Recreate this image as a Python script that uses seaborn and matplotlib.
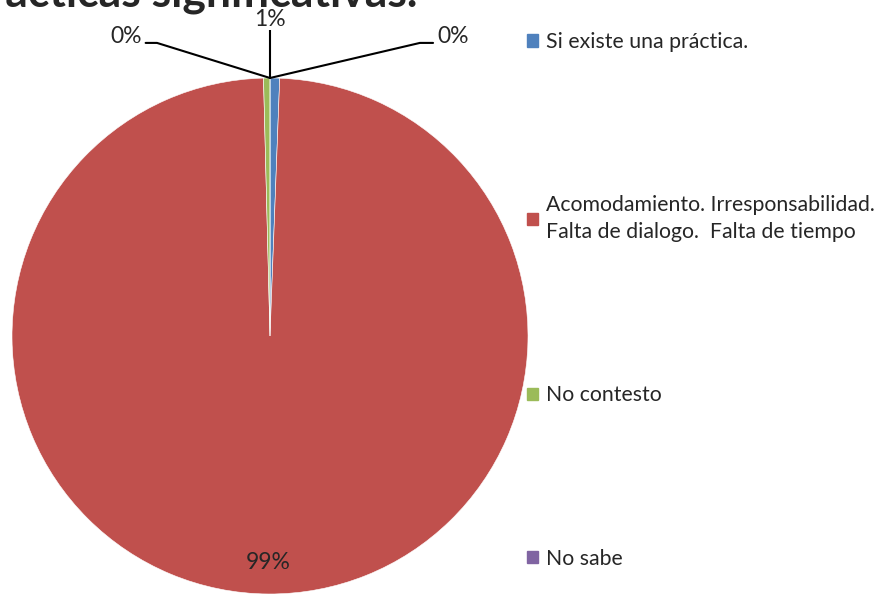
import matplotlib.pyplot as plt
import matplotlib.patches as mpatches
import seaborn as sns

# --- DATA ---
categories = [
    "Si existe una práctica.",
    "Acomodamiento. Irresponsabilidad.\nFalta de dialogo.  Falta de tiempo",
    "No contesto",
    "No sabe",
]
values = [0.6, 99.0, 0.4, 0.0]
pct_labels = ["1%", "99%", "0%", "0%"]
title_text = "Prácticas significativas."

colors = ["#4F81BD", "#C0504D", "#9BBB59", "#8064A2"]

# --- STYLE ---
sns.set_theme(style="white")
plt.rcParams['font.family'] = ['Lato', 'DejaVu Sans']

W, H = 881, 595
fig = plt.figure(figsize=(W / 100, H / 100), dpi=100)

# pie centre at (270, 336) px, radius 258 px
cx, cy, r = 270, 336, 258
ax = fig.add_axes([0, 0, 540 / W, 1])
palette = sns.color_palette(colors)
wedges, _ = ax.pie(values, colors=palette, startangle=90, counterclock=False,
                   radius=1.0, wedgeprops=dict(linewidth=0.4, edgecolor='white'))
ax.set_xlim(-cx / r, (540 - cx) / r)
ax.set_ylim((cy - H) / r, cy / r)
ax.set_aspect('auto')
ax.axis('off')

# --- DATA LABELS with leader lines ---
lw = 1.5
fs = 16.5
# top label (blue slice)
ax.plot([0, 0], [1.0, 1.186], color='black', lw=lw, solid_capstyle='butt')
ax.text(0, 1.228, pct_labels[0], ha='center', va='center', fontsize=fs)
# left label (green slice)
ax.plot([0, -0.438, -0.482], [1.0, 1.136, 1.136], color='black', lw=lw)
ax.text(-0.496, 1.159, pct_labels[2], ha='right', va='center', fontsize=fs)
# right label (purple slice)
ax.plot([0, 0.581, 0.632], [1.0, 1.136, 1.136], color='black', lw=lw)
ax.text(0.647, 1.159, pct_labels[3], ha='left', va='center', fontsize=fs)
# large slice label
ax.text(-0.008, -0.876, pct_labels[1], ha='center', va='center', fontsize=fs)

# --- TITLE (clipped at the top, as in the original) ---
fig.text(417 / W, 1 - 6.5 / H, title_text, ha='right', va='baseline',
         fontsize=32, fontweight='bold')

# --- LEGEND ---
handles = [mpatches.Patch(color=c, label=l) for c, l in zip(palette, categories)]
leg = fig.legend(handles=handles, loc='upper left',
                 bbox_to_anchor=(527 / W, 1 - 32 / H), frameon=False,
                 fontsize=15.3, borderpad=0, borderaxespad=0,
                 handlelength=0.5, handleheight=0.5, handletextpad=0.4,
                 labelspacing=6.75)
for t in leg.get_texts():
    t.set_linespacing(1.4)

fig.savefig("out.png", dpi=100)
